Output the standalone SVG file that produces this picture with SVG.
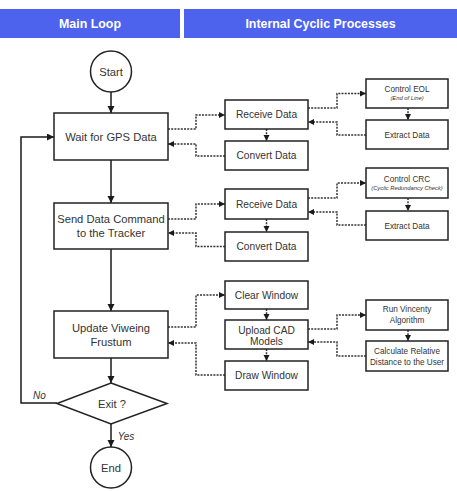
<svg xmlns="http://www.w3.org/2000/svg" width="457" height="491" viewBox="0 0 457 491">
<defs>
<marker id="ah" markerUnits="userSpaceOnUse" markerWidth="8" markerHeight="8" refX="7" refY="3.5" orient="auto"><path d="M0,0 L7,3.5 L0,7 z" fill="#1a1a1a"/></marker>
<marker id="ad" markerUnits="userSpaceOnUse" markerWidth="8" markerHeight="8" refX="6" refY="3" orient="auto"><path d="M0,0 L6,3 L0,6 z" fill="#1a1a1a"/></marker>
</defs>
<style>
text{font-family:"Liberation Sans",Arial,sans-serif;fill:#333;text-anchor:middle}
.hdr{fill:#4d63ee}
.ht{fill:#fff;font-weight:bold;font-size:12.4px}
.box{fill:#fff;stroke:#222;stroke-width:1.5}
.m{font-size:11.2px}
.r{font-size:10.2px}
.s{font-size:8.2px}
.xs{font-size:5.8px;font-style:italic}
.lbl{font-size:10px;font-style:italic}
.solid{fill:none;stroke:#1a1a1a;stroke-width:1.5;marker-end:url(#ah)}
.dot{fill:none;stroke:#333;stroke-width:1.5;stroke-dasharray:2 1.2;marker-end:url(#ad)}
</style>
<rect width="457" height="491" fill="#fff"/>
<g id="header">
<rect class="hdr" x="0" y="9" width="180" height="29"/>
<rect class="hdr" x="184" y="9" width="273" height="29"/>
<text class="ht" x="90" y="28">Main Loop</text>
<text class="ht" x="320.5" y="28">Internal Cyclic Processes</text>
</g>
<g id="connectors">
<path class="solid" d="M111,92 V113"/>
<path class="solid" d="M111,160 V203"/>
<path class="solid" d="M111,249 V311"/>
<path class="solid" d="M111,358 V383"/>
<path class="solid" d="M111,424 V447"/>
<path class="solid" d="M57,403 H21 V137 H54"/>
<path class="dot" d="M168,129 H196 V115 H225"/>
<path class="dot" d="M225,156 H196 V144 H168"/>
<path class="dot" d="M266.5,129 V141"/>
<path class="dot" d="M308,108 H337 V93.5 H366"/>
<path class="dot" d="M366,135 H337 V122 H308"/>
<path class="dot" d="M408,108 V120"/>
<path class="dot" d="M168,219 H196 V204 H225"/>
<path class="dot" d="M225,246.5 H196 V233 H168"/>
<path class="dot" d="M266.5,219 V232"/>
<path class="dot" d="M308,198 H337 V183 H366"/>
<path class="dot" d="M366,225 H337 V212 H308"/>
<path class="dot" d="M408,198 V211"/>
<path class="dot" d="M168,327 H196 V295 H225"/>
<path class="dot" d="M225,375 H196 V343 H168"/>
<path class="dot" d="M266.5,309 V320"/>
<path class="dot" d="M266.5,349 V361"/>
<path class="dot" d="M308,329 H337 V315 H366"/>
<path class="dot" d="M366,356 H337 V342 H308"/>
<path class="dot" d="M408,330 V341"/>
</g>
<g id="start"><circle class="box" cx="111" cy="71.5" r="20.5"/><text class="m" x="111" y="75.5">Start</text></g>
<g id="wait"><rect class="box" x="54" y="113" width="114" height="47"/><text class="m" x="111" y="141">Wait for GPS Data</text></g>
<g id="send"><rect class="box" x="54" y="203" width="114" height="46"/><text class="m" x="111" y="223">Send Data Command</text><text class="m" x="111" y="237">to the Tracker</text></g>
<g id="update"><rect class="box" x="54" y="311" width="114" height="47"/><text class="m" x="111" y="332">Update Viweing</text><text class="m" x="111" y="346">Frustum</text></g>
<g id="exit"><path class="box" d="M111,383 L167,403.5 L111,424 L57,403.5 Z"/><text class="m" x="112" y="407.5">Exit ?</text></g>
<g id="end"><circle class="box" cx="111" cy="467.5" r="20.5"/><text class="m" x="111" y="471.5">End</text></g>
<g id="labels"><text class="lbl" x="39.5" y="399">No</text><text class="lbl" x="126" y="440">Yes</text></g>
<g id="receive1"><rect class="box" x="225" y="100" width="83" height="29"/><text class="r" x="266.5" y="118">Receive Data</text></g>
<g id="convert1"><rect class="box" x="225" y="141" width="83" height="29"/><text class="r" x="266.5" y="159">Convert Data</text></g>
<g id="eol"><rect class="box" x="366" y="79" width="82" height="29"/><text class="s" x="407" y="92">Control EOL</text><text class="xs" x="407" y="100">(End of Line)</text></g>
<g id="extract1"><rect class="box" x="366" y="120" width="82" height="29"/><text class="s" x="407" y="137.5">Extract Data</text></g>
<g id="receive2"><rect class="box" x="225" y="189" width="83" height="30"/><text class="r" x="266.5" y="207.5">Receive Data</text></g>
<g id="convert2"><rect class="box" x="225" y="232" width="83" height="29"/><text class="r" x="266.5" y="250">Convert Data</text></g>
<g id="crc"><rect class="box" x="366" y="168" width="82" height="30"/><text class="s" x="407" y="182">Control CRC</text><text class="xs" x="407" y="190">(Cyclic Redundancy Check)</text></g>
<g id="extract2"><rect class="box" x="366" y="211" width="82" height="29"/><text class="s" x="407" y="228.5">Extract Data</text></g>
<g id="clear"><rect class="box" x="225" y="281" width="83" height="28"/><text class="r" x="266.5" y="298.5">Clear Window</text></g>
<g id="upload"><rect class="box" x="225" y="320" width="83" height="29"/><text class="r" x="266.5" y="333.5">Upload CAD</text><text class="r" x="266.5" y="345">Models</text></g>
<g id="draw"><rect class="box" x="225" y="361" width="83" height="29"/><text class="r" x="266.5" y="379">Draw Window</text></g>
<g id="vincenty"><rect class="box" x="366" y="300" width="82" height="30"/><text class="s" x="407" y="312">Run Vincenty</text><text class="s" x="407" y="322.5">Algorithm</text></g>
<g id="calc"><rect class="box" x="366" y="341" width="82" height="30"/><text class="s" x="407" y="354">Calculate Relative</text><text class="s" x="407" y="364.5">Distance to the User</text></g>
</svg>
